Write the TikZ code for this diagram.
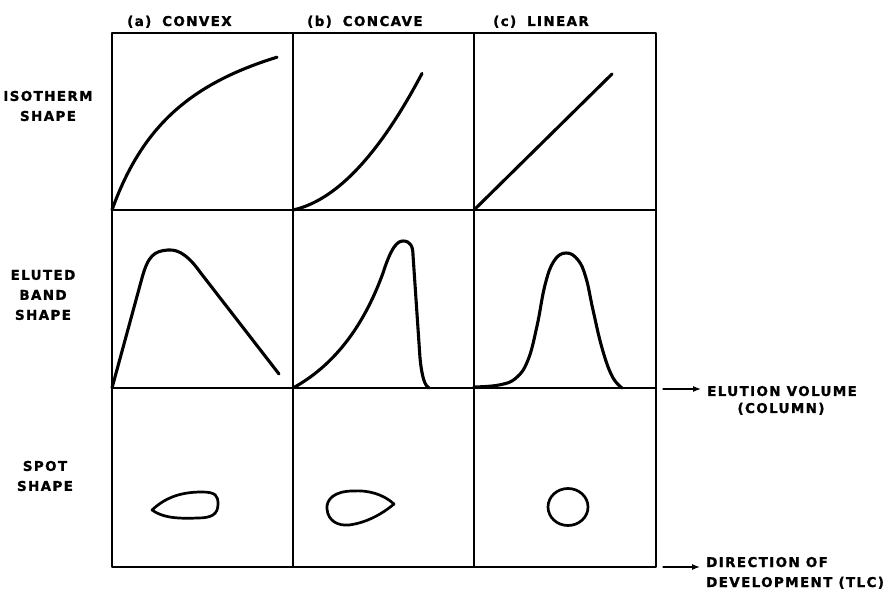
\documentclass[tikz,border=0pt]{standalone}
\usepackage{fontspec}
\setmainfont{DejaVu Sans}[LetterSpace=10, BoldFeatures={FakeBold=1.2}]
\usetikzlibrary{arrows.meta}
\begin{document}
\begin{tikzpicture}[x=1pt,y=1pt,>={Latex[length=8pt,width=6pt]}, font=\bfseries\fontsize{13.5}{20}\selectfont, line join=round, line cap=round,
	grid/.style={line width=2pt, line cap=rect},
	curve/.style={line width=3.1pt},
	spot/.style={line width=2.7pt},
	lbl/.style={inner sep=0pt, align=center},
	arr/.style={->, line width=1.3pt, shorten >=6pt}]
	\useasboundingbox (0,0) rectangle (888,594);
	% the table
	\draw[grid] (112,27) rectangle (656,561);
	\foreach \x in {293,474}
	\draw[grid] (\x,27) -- (\x,561);
	\foreach \y in {206,384}
	\draw[grid] (112,\y) -- (656,\y);
	% column and row heads
	\node[lbl, anchor=base west] (cvx) at (127,568) {(a)\hspace{0.8em}CONVEX};
	\node[lbl, anchor=base west] (ccv) at (307,568) {(b)\hspace{0.8em}CONCAVE};
	\node[lbl, anchor=base west] (lin) at (493,568) {(c)\hspace{0.8em}LINEAR};
	\node[lbl] (iso) at (48,488) {ISOTHERM\\SHAPE};
	\node[lbl] (elt) at (43,299) {ELUTED\\BAND\\SHAPE};
	\node[lbl] (spt) at (45,118) {SPOT\\SHAPE};
	% isotherms
	\begin{scope}[shift={(112,384)}]
	\draw[curve,smooth,samples=80,domain=0:165] plot(\x,{229*(\x/(82.3+\x))});
	\end{scope}
	\begin{scope}[shift={(293,384)}]
	\draw[curve,smooth,samples=80,domain=0:129] plot(\x,{0.0065*\x*\x+0.22*\x});
	\end{scope}
	\begin{scope}[shift={(474,384)}]
	\draw[curve] (0,0) -- (138,136);
	\end{scope}
	% eluted bands
	\begin{scope}[shift={(112,206)}]
	\draw[curve] (0,0) -- (30,110) .. controls (36,132) and (42,137) .. (56,138) .. controls (68,139) and (78,130) .. (88,116) -- (167,14);
	\end{scope}
	\begin{scope}[shift={(293,206)}]
	\draw[curve] (0,0) .. controls (40,22) and (70,60) .. (90,115) .. controls (98,140) and (104,147) .. (110,147) .. controls (117,147) and (120,142) .. (120,133) -- (127,30) .. controls (129,10) and (132,2) .. (136,0);
	\end{scope}
	\begin{scope}[shift={(474,206)}]
	\draw[curve] plot[smooth, tension=0.7] coordinates {(0,1) (25,3) (42,10) (54,28) (63,62) (71,103) (80,127) (92,135) (104,128) (112,110) (119,78) (128,40) (138,12) (148,0)};
	\end{scope}
	% spots
	\begin{scope}[shift={(112,27)}]
	\draw[spot] (40,57) .. controls (52,68) and (66,75) .. (90,75) .. controls (104,75) and (106,71) .. (106,63) .. controls (106,53) and (100,49) .. (86,49) .. controls (62,48) and (50,50) .. cycle;
	\end{scope}
	\begin{scope}[shift={(293,27)}]
	\draw[spot] (101,63) .. controls (90,73) and (75,77) .. (60,76) .. controls (42,76) and (33,68) .. (34,58) .. controls (35,46) and (45,41) .. (56,42) .. controls (72,44) and (88,52) .. cycle;
	\end{scope}
	\begin{scope}[shift={(474,27)}]
	\draw[spot] (94,60) ellipse (20 and 18.5);
	\end{scope}
	% axes on the right
	\node[lbl, anchor=base west] (elu) at (707,198) {ELUTION VOLUME};
	\node[lbl, anchor=base] (clm) at (781,181) {(COLUMN)};
	\node[lbl, anchor=base west] (dir) at (706,27) {DIRECTION OF};
	\node[lbl, anchor=base west] (dev) at (706,7) {DEVELOPMENT (TLC)};
	\coordinate (ea) at (663,205);
	\coordinate (da) at (663,27);
	\draw[arr] (ea) -- (ea -| elu.west);
	\draw[arr] (da) -- (da -| dir.west);
\end{tikzpicture}
\end{document}
